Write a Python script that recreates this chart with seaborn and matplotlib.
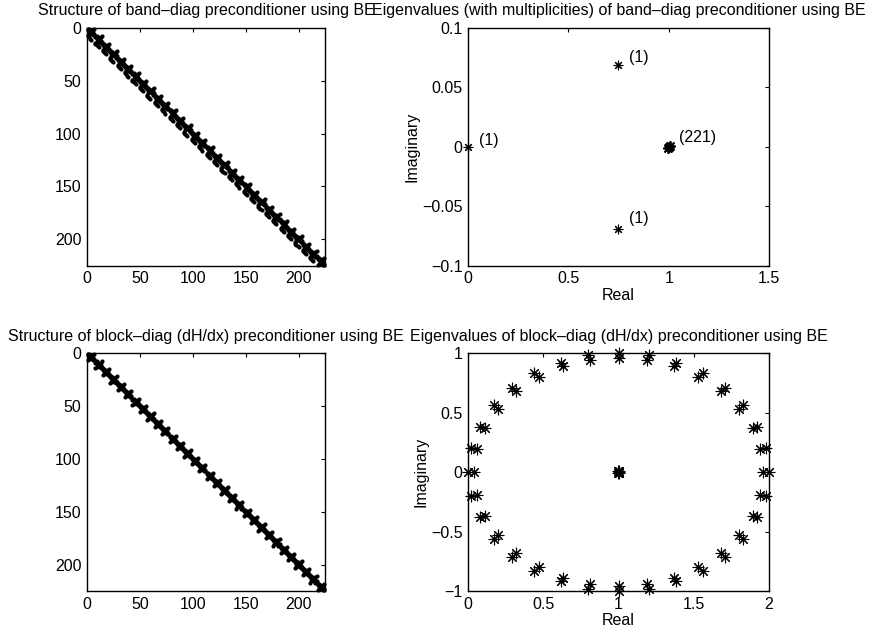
import numpy as np
import pandas as pd
import seaborn as sns
from matplotlib import pyplot as plt
from matplotlib import ticker

sns.set_theme(style="white")
plt.rcParams["font.family"] = ["Liberation Sans", "DejaVu Sans"]
plt.rcParams["axes.edgecolor"] = "black"
plt.rcParams["axes.linewidth"] = 1.0
plt.rcParams["text.color"] = "black"
plt.rcParams["axes.labelcolor"] = "black"

FS = 11.5

# sparsity structure of the preconditioners
n_rows = 224
block_size = 7
# sub-diagonal coupling between neighbouring blocks (row offset in block, col offset in block)
band_rows = [0, 1, 2, 3]
band_cols = [0, 1, 2, 3]

# eigenvalues of band-diag preconditioner
band_re = [0.0, 0.745, 0.745, 1.0]
band_im = [0.0, 0.069, -0.069, 0.0]
band_mult = ["(1)", "(1)", "(1)", "(221)"]
band_label_x = [0.055, 0.80, 0.80, 1.05]
band_label_y = [0.005, 0.075, -0.060, 0.008]

# eigenvalues of block-diag preconditioner
outer_re = [2.00, 1.98, 1.92, 1.83, 1.71, 1.56, 1.38, 1.20, 1.00, 0.80, 0.62, 0.44, 0.29, 0.17, 0.08, 0.02,
            0.00, 0.02, 0.08, 0.17, 0.29, 0.44, 0.62, 0.80, 1.00, 1.20, 1.38, 1.56, 1.71, 1.83, 1.92, 1.98]
outer_im = [0.00, 0.20, 0.38, 0.56, 0.71, 0.83, 0.92, 0.98, 1.00, 0.98, 0.92, 0.83, 0.71, 0.56, 0.38, 0.20,
            0.00, -0.20, -0.38, -0.56, -0.71, -0.83, -0.92, -0.98, -1.00, -0.98, -0.92, -0.83, -0.71, -0.56, -0.38, -0.20]
inner_re = [1.96, 1.94, 1.89, 1.80, 1.68, 1.53, 1.37, 1.19, 1.00, 0.81, 0.63, 0.47, 0.32, 0.20, 0.11, 0.06,
            0.04, 0.06, 0.11, 0.20, 0.32, 0.47, 0.63, 0.81, 1.00, 1.19, 1.37, 1.53, 1.68, 1.80, 1.89, 1.94]
inner_im = [0.00, 0.19, 0.37, 0.53, 0.68, 0.80, 0.89, 0.94, 0.96, 0.94, 0.89, 0.80, 0.68, 0.53, 0.37, 0.19,
            0.00, -0.19, -0.37, -0.53, -0.68, -0.80, -0.89, -0.94, -0.96, -0.94, -0.89, -0.80, -0.68, -0.53, -0.37, -0.19]
center_re = [1.0, 1.006, 0.994, 1.003, 0.997]
center_im = [0.0, 0.008, -0.008, -0.006, 0.006]

# build nonzero patterns: diagonal + anti-diagonal inside each block
n_blocks = n_rows // block_size
block_nz = [(b * block_size + i + 1, b * block_size + j + 1)
            for b in range(n_blocks) for i in range(block_size) for j in range(block_size)
            if i == j or i + j == block_size - 1 or abs(i - j) == 1]
band_nz = block_nz + [((b + 1) * block_size + r + 1, b * block_size + c + 1)
                      for b in range(n_blocks - 1) for r, c in zip(band_rows, band_cols)]
block_df = pd.DataFrame(block_nz, columns=["row", "col"])
band_df = pd.DataFrame(band_nz, columns=["row", "col"])

eig_band = pd.DataFrame({"re": band_re, "im": band_im})
eig_block = pd.DataFrame({"re": outer_re + inner_re + center_re,
                          "im": outer_im + inner_im + center_im})


def fmt(x, pos):
    return f"{x:g}".replace("-", "\u2212")


def style_axes(ax):
    ax.tick_params(direction="in", length=3, width=0.8, top=True, right=True,
                   labelsize=FS, colors="black", pad=4)
    for s in ax.spines.values():
        s.set_visible(True)
        s.set_color("black")
        s.set_linewidth(1.0)
    ax.xaxis.set_major_formatter(ticker.FuncFormatter(fmt))
    ax.yaxis.set_major_formatter(ticker.FuncFormatter(fmt))


fig = plt.figure(figsize=(8.69, 6.37), dpi=100)
ax_tl = fig.add_axes([0.1001, 0.5829, 0.2739, 0.3732])
ax_tr = fig.add_axes([0.5386, 0.5829, 0.3464, 0.3732])
ax_bl = fig.add_axes([0.1001, 0.0722, 0.2739, 0.3736])
ax_br = fig.add_axes([0.5386, 0.0722, 0.3464, 0.3736])

# spy plots
for ax, df, title in [
    (ax_tl, band_df, "Structure of band\u2013diag preconditioner using BE"),
    (ax_bl, block_df, "Structure of block\u2013diag (dH/dx) preconditioner using BE"),
]:
    sns.scatterplot(data=df, x="col", y="row", ax=ax, marker="o", s=9,
                    color="black", linewidth=0, legend=False, clip_on=False)
    ax.set_xlim(0, n_rows + 1)
    ax.set_ylim(n_rows + 1, 0)
    ax.set_xticks([0, 50, 100, 150, 200])
    ax.set_yticks([0, 50, 100, 150, 200])
    ax.set_xlabel("")
    ax.set_ylabel("")
    ax.set_title(title, fontsize=FS, pad=9, color="black")
    style_axes(ax)

asterisk = (8, 2, 0)

# band-diag eigenvalues
sns.scatterplot(data=eig_band, x="re", y="im", ax=ax_tr, marker=asterisk, s=40,
                color="black", linewidth=0.8, edgecolor="black", legend=False, clip_on=False)
ax_tr.scatter([1.0, 1.004, 0.996], [0.0, 0.0008, -0.0008], marker=asterisk, s=45,
              color="black", linewidths=1.3, clip_on=False)
for lx, ly, lab in zip(band_label_x, band_label_y, band_mult):
    ax_tr.text(lx, ly, lab, fontsize=FS, ha="left", va="center", color="black")
ax_tr.set_xlim(0, 1.5)
ax_tr.set_ylim(-0.1, 0.1)
ax_tr.set_xticks([0, 0.5, 1, 1.5])
ax_tr.set_yticks([-0.1, -0.05, 0, 0.05, 0.1])
ax_tr.set_xlabel("Real", fontsize=FS, labelpad=1)
ax_tr.set_ylabel("Imaginary", fontsize=FS, labelpad=2)
ax_tr.set_title("Eigenvalues (with multiplicities) of band\u2013diag preconditioner using BE",
                fontsize=FS, pad=9, color="black")
style_axes(ax_tr)

# block-diag eigenvalues
sns.scatterplot(data=eig_block, x="re", y="im", ax=ax_br, marker=asterisk, s=60,
                color="black", linewidth=0.8, edgecolor="black", legend=False, clip_on=False)
ax_br.set_xlim(0, 2)
ax_br.set_ylim(-1, 1)
ax_br.set_xticks([0, 0.5, 1, 1.5, 2])
ax_br.set_yticks([-1, -0.5, 0, 0.5, 1])
ax_br.set_xlabel("Real", fontsize=FS, labelpad=1)
ax_br.set_ylabel("Imaginary", fontsize=FS, labelpad=2)
ax_br.set_title("Eigenvalues of block\u2013diag (dH/dx) preconditioner using BE", fontsize=FS, pad=9,
                color="black")
style_axes(ax_br)

fig.savefig("out.png", dpi=100, facecolor="white")
